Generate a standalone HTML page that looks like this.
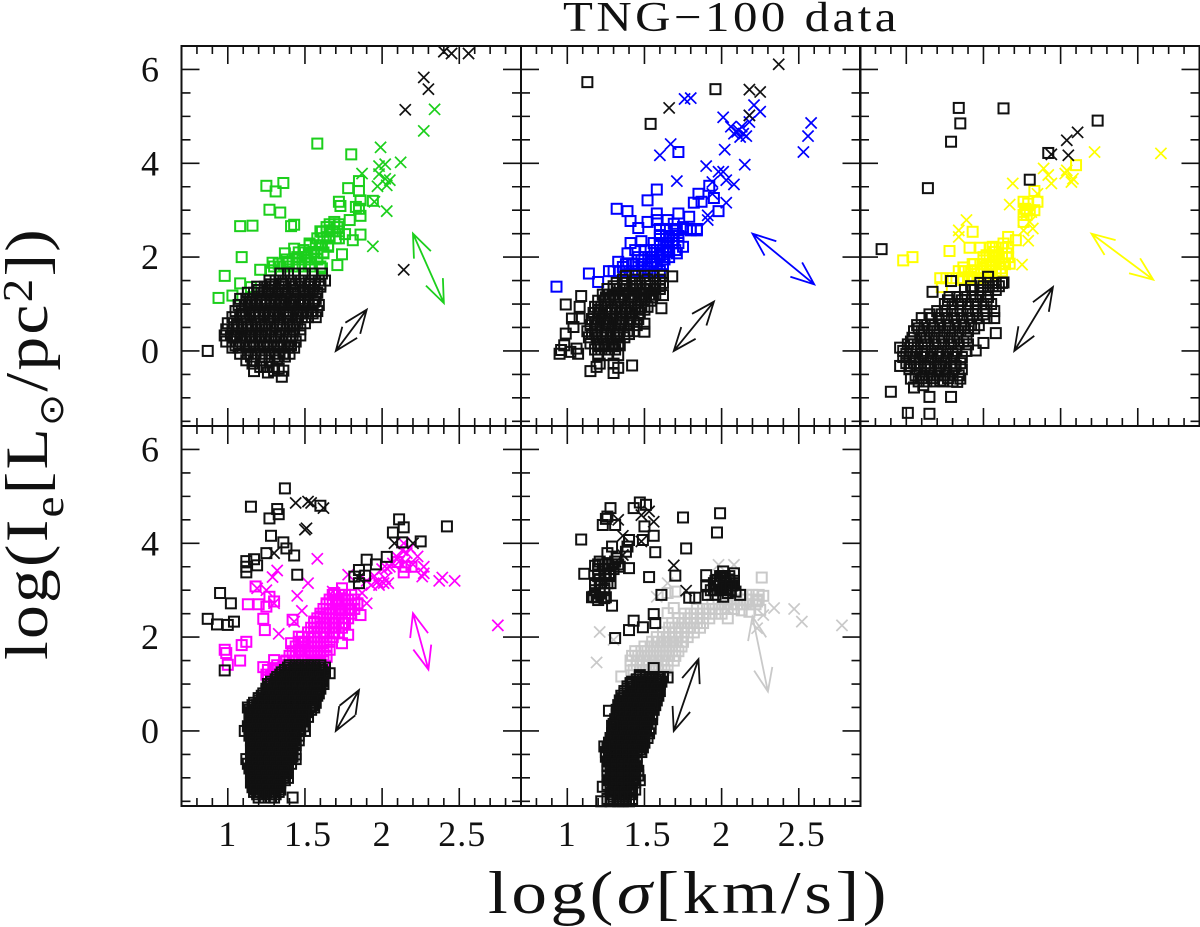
<!DOCTYPE html>
<html lang="en">
<head>
<meta charset="utf-8">
<title>TNG-100 data</title>
<style>
html,body{margin:0;padding:0;background:#fff;width:1200px;height:927px;overflow:hidden}
svg{display:block}
text{font-family:"Liberation Serif","DejaVu Serif",serif;fill:#111}
.tick-label{font-size:36px}
</style>
</head>
<body>
<svg id="chart" xmlns="http://www.w3.org/2000/svg" width="1200" height="927" viewBox="0 0 1200 927">
<rect x="0" y="0" width="1200" height="927" fill="#fff"/>
<text x="563" y="31" font-size="42" letter-spacing="3" textLength="337" lengthAdjust="spacingAndGlyphs">TNG−100 data</text>
<text x="488" y="913" font-size="60" letter-spacing="3" textLength="402" lengthAdjust="spacingAndGlyphs">log(<tspan font-style="italic">σ</tspan>[km/s])</text>
<text transform="translate(47,660) rotate(-90)" font-size="60" letter-spacing="2" textLength="433" lengthAdjust="spacingAndGlyphs">log(I<tspan font-size="42" dy="16">e</tspan><tspan dy="-16">[L</tspan><tspan font-size="34" dy="16" font-family="DejaVu Sans">⊙</tspan><tspan dy="-16">/pc</tspan><tspan font-size="42" dy="-15">2</tspan><tspan dy="15">])</tspan></text>
<g id="panels"></g>
</svg>
<script>
/* Axis tick labels and tick values */
const xMajorTicks=[1,1.5,2,2.5];
const xTickLabels=["1","1.5","2","2.5"];
const yMajorTicks=[6,4,2,0];
const yTickLabels=["6","4","2","0"];
const xMinorTicks=[0.8,0.9,1.1,1.2,1.3,1.4,1.6,1.7,1.8,1.9,2.1,2.2,2.3,2.4,2.6,2.7,2.8];
const yMinorTicks=[5.5,5,4.5,3.5,3,2.5,1.5,1,0.5,-0.5,-1,-1.5];

/* Panel 1: log sigma, log Ie pairs. "Rows" arrays: log Ie first, then the log sigma values of squares near that level */
const panel1ColorSquares=[[1.58,4.42],[1.8,4.19],[1.25,3.52],[1.36,3.58],[1.31,3.4],[1.27,3.01],[1.34,2.95],[1.08,2.66],[1.16,2.67],[1.41,2.66],[1.43,2.69],[1.09,2],[.98,1.6],[.94,1.13],[1.03,1.18],[1.08,1.44],[1.21,1.73],[1.85,3.62],[1.78,3.47],[1.85,3.41],[1.86,3.21],[1.72,3.18],[1.73,3.09],[1.83,3.07],[1.85,3.03],[1.94,3.2],[1.86,2.88],[1.79,2.79],[1.86,2.48],[1.81,2.36],[1.74,2.06],[1.71,1.83],[1.69,2.75],[1.64,2.64],[1.71,2.64],[1.61,2.54],[1.66,2.57],[1.62,2.4],[1.72,2.4],[1.76,2.49],[1.53,2.29],[1.6,2.25],[1.65,2.22],[1.43,2.18],[1.49,2.15],[1.56,2.11],[1.62,2.08],[1.37,2.08],[1.45,2],[1.51,2],[1.58,1.97],[1.29,1.88],[1.33,1.86],[1.39,1.9],[1.46,1.86],[1.53,1.86],[1.61,1.76],[1.28,1.72],[1.15,1.36]];
const panel1ColorRows=[[2.7,1.66,1.69,1.72],[2.55,1.6,1.64,1.68,1.72],[2.4,1.58,1.62,1.66,1.7],[2.25,1.53,1.57,1.61,1.65],[2.1,1.46,1.5,1.54,1.58,1.62],[1.95,1.38,1.42,1.46,1.5,1.54,1.58],[1.8,1.3,1.34,1.38,1.42,1.46,1.5,1.54,1.6]];
const panel1ColorCrosses=[[1.99,4.34],[1.87,3.78],[1.98,3.94],[2.02,3.98],[2.12,4.02],[1.98,3.77],[2.05,3.64],[2.02,3.67],[2.03,3.53],[1.97,3.51],[1.95,3.18],[2.03,2.98],[1.94,2.23],[2.34,5.15],[2.27,4.69]];
const panel1BlackCrosses=[[2.15,5.14],[2.27,5.83],[2.3,5.58],[2.4,6.38],[2.45,6.34],[2.56,6.34],[2.14,1.73]];
const panel1BlackSquares=[[.87,0],[1.35,-.55],[1.16,-.27],[1.17,-.43],[1.26,-.46],[1.3,-.42],[1.36,-.42],[1.33,-.38],[1.37,-.12]];
const panel1BlackRows=[[1.65,1.34,1.39,1.43,1.5,1.55,1.61],[1.5,1.27,1.31,1.36,1.41,1.46,1.5,1.54,1.59,1.63],[1.37,1.19,1.24,1.29,1.33,1.37,1.42,1.47,1.52,1.56,1.6],[1.24,1.13,1.17,1.22,1.26,1.31,1.35,1.39,1.44,1.49,1.53,1.58],[1.11,1.08,1.12,1.16,1.21,1.25,1.3,1.34,1.38,1.43,1.47,1.52,1.57],[.98,1.07,1.11,1.15,1.19,1.24,1.28,1.33,1.37,1.41,1.46,1.5,1.55,1.59],[.85,1.05,1.09,1.14,1.18,1.23,1.27,1.31,1.36,1.4,1.45,1.49,1.54,1.58],[.72,1.03,1.08,1.12,1.17,1.21,1.26,1.3,1.34,1.39,1.44,1.48,1.52,1.57],[.59,1,1.04,1.09,1.13,1.18,1.22,1.27,1.32,1.36,1.4,1.45,1.5],[.46,.99,1.03,1.07,1.12,1.16,1.2,1.25,1.29,1.34,1.38,1.43,1.47],[.33,.98,1.02,1.06,1.11,1.15,1.2,1.24,1.28,1.33,1.38,1.42,1.47],[.2,.99,1.03,1.08,1.12,1.16,1.21,1.25,1.3,1.35,1.4,1.44],[.07,1.03,1.07,1.12,1.17,1.21,1.26,1.3,1.34,1.39,1.43],[-.06,1.08,1.13,1.18,1.22,1.27,1.31,1.36,1.4],[-.2,1.12,1.17,1.22,1.27,1.32],[-.34,1.21,1.25,1.29]];
const panel1ExtraBlackRows=[[1.42,1.28,1.35,1.44,1.53,1.6],[1.3,1.2,1.27,1.35,1.43,1.5,1.55],[1.05,1.14,1.22,1.28,1.35,1.42,1.5,1.56],[.8,1.1,1.2,1.29,1.38,1.47,1.55],[.55,1.06,1.15,1.24,1.34,1.42],[.3,1.04,1.14,1.22,1.31,1.4],[.12,1.05,1.14,1.23,1.32,1.41],[-.12,1.15,1.24,1.33]];
const panel1ColorArrow=[2.2,2.5,2.4,1.02];
const panel1BlackArrow=[1.9,.88,1.7,0];
const panel1Color="#1ccf1c";

/* Panel 2 */
const panel2ColorSquares=[[1.72,4.24],[1.58,3.44],[1.52,3.21],[1.32,3.03],[1.39,2.98],[1.41,2.77],[1.46,2.62],[1.52,2.75],[1.58,2.93],[1.58,2.79],[1.92,3.52],[1.85,3.35],[1.82,3.16],[1.87,3.18],[1.95,3.26],[1.98,2.98],[1.72,2.93],[1.79,2.86],[1.65,2.79],[1.69,2.71],[1.75,2.64],[1.84,2.57],[1.6,2.47],[1.66,2.43],[1.75,2.22],[1.41,2.3],[1.48,2.34],[1.39,2.08],[1.44,2.15],[1.33,1.9],[1.14,1.65],[.93,1.37],[1.2,1.47],[1.27,1.7],[1.71,2.08],[1.65,2.11],[1.6,2.04],[1.55,2],[1.6,2.29],[1.48,1.93],[1.43,1.86],[1.36,1.79],[1.58,1.86],[1.52,1.76],[1.65,2.29],[1.69,2.36],[1.8,2.57],[1.71,2.57],[1.62,2.15],[1.55,1.9],[1.63,1.95]];
const panel2ColorRows=[[2.6,1.6,1.64,1.7,1.75,1.8,1.84],[2.45,1.6,1.64,1.68,1.72],[2.3,1.56,1.6,1.64,1.68,1.72],[2.15,1.5,1.54,1.58,1.62,1.66,1.7],[2,1.46,1.5,1.54,1.58,1.62,1.66],[1.85,1.38,1.42,1.46,1.5,1.54,1.58,1.62],[1.7,1.3,1.34,1.38,1.42,1.46,1.5,1.54,1.6]];
const panel2ColorCrosses=[[1.76,5.37],[1.8,5.39],[1.67,4.41],[1.6,4.17],[1.71,3.62],[2.02,4.29],[1.9,3.94],[2.15,3.97],[1.98,3.82],[2.01,3.82],[2.03,3.64],[2.08,3.55],[1.94,3.6],[1.94,3.35],[2.03,3.16],[1.91,2.89],[1.91,2.79],[2.01,4.98],[2.06,4.78],[2.08,4.63],[2.11,4.7],[2.13,4.78],[2.14,4.63],[2.12,4.56],[2.16,4.58],[2.18,4.88],[2.21,5.24],[2.25,5.1],[2.58,4.86],[2.56,4.58],[2.53,4.24],[2.1,4.67],[2.18,5.02]];
const panel2BlackCrosses=[[1.66,5.18],[2.18,5.57],[2.25,5.52],[2.18,5.02],[2.37,6.11]];
const panel2BlackSquares=[[1.13,5.73],[1.96,5.58],[1.54,4.84],[1.68,1.59],[1.09,1.17],[.99,.99],[1.08,.94],[1.61,.91],[1.62,1.19],[1.03,.69],[1.08,.69],[.99,.37],[1.04,.51],[.98,.12],[.95,-.06],[.96,.02],[1.02,-.02],[1.07,-.06],[1.06,.05],[1.15,-.43],[1.19,-.34],[1.3,-.47],[1.33,-.36],[1.42,-.31],[1.3,-.27],[1.21,-.27],[1.2,-.09],[1.26,-.09],[1.33,-.09],[1.34,.12],[1.5,.41],[1.5,.58]];
const panel2BlackRows=[[1.6,1.38,1.44,1.5,1.56,1.62],[1.45,1.32,1.37,1.42,1.47,1.52,1.57,1.62],[1.32,1.26,1.3,1.34,1.38,1.43,1.47,1.51,1.56,1.6],[1.2,1.23,1.27,1.31,1.36,1.4,1.44,1.49,1.53,1.57],[1.07,1.2,1.24,1.28,1.33,1.37,1.41,1.46,1.5,1.54],[.94,1.18,1.22,1.26,1.31,1.35,1.39,1.44,1.48,1.52],[.81,1.17,1.21,1.25,1.29,1.34,1.38,1.42,1.47],[.68,1.16,1.2,1.24,1.28,1.32,1.36,1.41,1.46],[.55,1.15,1.19,1.23,1.27,1.31,1.35,1.4,1.45],[.42,1.13,1.18,1.22,1.26,1.3,1.34,1.39,1.43],[.29,1.14,1.19,1.23,1.28,1.32,1.37],[.16,1.15,1.2,1.24,1.29,1.33],[.03,1.18,1.22,1.27,1.31]];
const panel2ExtraBlackRows=[[1.52,1.36,1.44,1.52,1.6],[1.38,1.3,1.36,1.45,1.54,1.6],[1.14,1.25,1.34,1.42,1.51,1.55],[.88,1.2,1.29,1.37,1.46,1.5],[.62,1.18,1.26,1.34,1.43],[.36,1.16,1.25,1.33,1.4],[.1,1.2,1.25,1.3]];
const panel2ColorArrow=[2.2,2.5,2.6,1.42];
const panel2BlackArrow=[1.95,1.05,1.69,0];
const panel2Color="#0000ff";

/* Panel 3 */
const panel3ColorSquares=[[2.1,3.96],[1.83,3.41],[1.76,3.18],[1.85,3.18],[1.79,3.14],[1.77,3.03],[1.76,2.75],[1.43,2.54],[1.28,2.13],[.98,1.93],[1.04,2],[1.41,2.2],[1.48,2.2],[1.56,2.22],[1.66,2.43],[1.71,2.36],[1.63,2.29],[1.57,2.11],[1.65,2.08],[1.5,1.93],[1.58,1.93],[1.67,1.86],[1.37,1.78],[1.44,1.72],[1.5,1.76],[1.61,1.76],[1.37,1.51],[1.23,1.36],[1.46,1.54],[1.55,1.72],[1.63,1.86],[1.52,2.04],[1.6,2],[1.41,1.58],[1.54,1.6],[1.43,1.85],[1.56,2.04]];
const panel3ColorRows=[[3,1.78,1.8,1.83],[2.9,1.76,1.78],[2.2,1.54,1.58,1.62,1.66],[2,1.5,1.54,1.58,1.62,1.66],[1.85,1.44,1.48,1.52,1.56,1.6,1.64],[1.7,1.34,1.38,1.42,1.46,1.5,1.54,1.58,1.62],[1.55,1.22,1.26,1.3,1.36,1.4,1.44,1.5]];
const panel3ColorCrosses=[[2.22,4.24],[2.65,4.21],[1.69,3.57],[1.67,3.12],[1.89,3.89],[1.92,3.75],[1.94,3.57],[2.04,3.85],[2.03,3.78],[2.07,3.6],[2.08,3.67],[1.85,3.35],[1.81,2.96],[1.82,2.61],[1.79,2.35],[1.75,1.84],[1.39,2.79],[1.34,2.57],[1.34,2.43],[1.76,2.57],[1.8,2.75]];
const panel3BlackCrosses=[[2.11,4.66],[2.04,4.49],[2.05,4.17],[1.94,4.19]];
const panel3BlackSquares=[[1.34,5.18],[1.63,5.17],[1.35,4.85],[1.29,4.46],[2.24,4.91],[1.92,4.22],[1.14,3.47],[1.8,3.65],[.84,2.17],[.9,-.87],[1.01,-1.32],[1.15,-.98],[1.29,-.98],[1.15,-1.34],[1.58,.38],[1.5,.17],[1.45,.01],[1.17,1.26],[1.29,1.49],[1.53,1.58],[1.63,1.46],[.96,.07],[.96,-.32],[1.03,-.59],[1.05,-.78],[1.11,-.73],[1.33,-.66],[1.35,-.59],[1.22,-.63]];
const panel3BlackRows=[[1.45,1.48,1.53,1.58,1.62],[1.3,1.38,1.43,1.48,1.53,1.58],[1.15,1.28,1.33,1.38,1.43,1.48,1.53],[1,1.25,1.3,1.35,1.4,1.45,1.5,1.55],[.85,1.2,1.25,1.3,1.35,1.4,1.45,1.52,1.57],[.7,1.1,1.16,1.21,1.26,1.31,1.36,1.41,1.46,1.52,1.57],[.55,1.07,1.12,1.17,1.22,1.27,1.32,1.37,1.42,1.47],[.42,1.05,1.1,1.15,1.2,1.25,1.3,1.35,1.4],[.28,1.04,1.09,1.13,1.18,1.23,1.28,1.33,1.39],[.14,1.01,1.05,1.1,1.14,1.19,1.24,1.29,1.34,1.4],[0,.98,1.03,1.07,1.12,1.17,1.22,1.27,1.32,1.39],[-.13,.98,1.02,1.06,1.11,1.16,1.21,1.26,1.31,1.36],[-.26,1,1.05,1.09,1.14,1.19,1.24,1.29,1.35],[-.39,1.02,1.07,1.12,1.16,1.21,1.26,1.31,1.36],[-.52,1.06,1.11,1.15,1.2,1.25,1.3,1.34],[-.65,1.08,1.13,1.18,1.24,1.3]];
const panel3ExtraBlackRows=[[1.38,1.42,1.5,1.56,1.6],[1.08,1.27,1.36,1.45,1.52],[.78,1.15,1.23,1.33,1.43,1.5],[.48,1.08,1.18,1.28,1.38,1.44],[.2,1.03,1.12,1.21,1.31,1.37],[-.06,1,1.1,1.2,1.3],[-.32,1.03,1.12,1.22,1.32],[-.58,1.1,1.17,1.27]];
const panel3ColorArrow=[2.2,2.5,2.6,1.52];
const panel3BlackArrow=[1.95,1.36,1.7,0];
const panel3Color="#ffff00";

/* Panel 4 */
const panel4ColorSquares=[[1.18,3.08],[1.13,2.7],[1.2,2.7],[1.25,2.65],[1.27,2.86],[1.3,2.76],[1.23,2.39],[1.24,2.15],[1.42,2.37],[1.12,1.9],[1.09,1.83],[.98,1.73],[.99,1.66],[1,1.41],[1.08,1.5],[1.23,1.36],[1.3,1.51],[1.28,1.16],[2.14,3.38],[2.19,3.5],[1.74,3.04],[1.69,2.94],[1.64,2.72],[1.71,2.76],[1.78,2.79],[1.84,2.72],[1.86,2.47],[1.79,2.58],[1.73,2.58],[1.66,2.51],[1.6,2.44],[1.56,2.33],[1.56,2.19],[1.62,2.3],[1.69,2.3],[1.75,2.3],[1.78,2.05],[1.74,1.87],[1.69,2.08],[1.62,2.08],[1.56,2.01],[1.46,2.01],[1.41,1.87],[1.49,1.87],[1.56,1.8],[1.62,1.87],[1.66,1.73],[1.6,1.66],[1.54,1.66],[1.47,1.73],[1.44,1.69],[1.64,1.58],[1.58,1.51],[1.49,1.51],[1.43,1.48],[1.37,1.48],[1.31,1.34],[2.1,3.6],[2.15,3.5]];
const panel4ColorRows=[[2.9,1.68,1.72,1.76,1.8],[2.8,1.66,1.7,1.74,1.78,1.82],[2.7,1.64,1.68,1.72,1.76,1.8,1.84],[2.6,1.62,1.66,1.7,1.74,1.78,1.82],[2.5,1.6,1.64,1.68,1.72,1.76,1.8],[2.4,1.58,1.62,1.66,1.7,1.74,1.78],[2.3,1.56,1.6,1.64,1.68,1.72,1.76],[2.2,1.54,1.58,1.62,1.66,1.7,1.74],[2.1,1.52,1.56,1.6,1.64,1.68,1.72],[2,1.48,1.52,1.56,1.6,1.64,1.68],[1.9,1.46,1.5,1.54,1.58,1.62,1.66],[1.8,1.44,1.48,1.52,1.56,1.6,1.64],[1.7,1.42,1.46,1.5,1.54,1.58,1.62],[1.6,1.4,1.44,1.48,1.52,1.56,1.6,1.64],[1.5,1.38,1.42,1.46,1.5,1.54,1.58,1.62],[1.4,1.32,1.36,1.4,1.44,1.62],[1.3,1.26,1.3,1.34],[1.2,1.25,1.29,1.33],[1.1,1.26,1.3]];
const panel4ColorCrosses=[[1.58,3.67],[1.32,3.42],[1.29,3.28],[1.52,3.15],[1.45,2.88],[1.48,2.56],[1.19,3.04],[1.25,3],[1.3,2.72],[1.43,2.33],[1.33,2.07],[2.75,2.25],[2.47,3.2],[2.39,3.27],[2.37,3.2],[2.27,3.36],[2.27,3.5],[2.26,3.29],[2.23,3.72],[2.14,4],[2.16,3.79],[2.11,3.61],[2.03,3.47],[2.04,3.15],[1.98,3.11],[1.93,3.11],[1.9,2.72],[1.78,3.33],[1.68,2.97],[1.87,2.94],[2.01,3.15],[2.07,3.57],[1.9,3.2],[1.95,3.3],[2,3.45],[2.05,3.5],[2.1,3.7],[2.15,3.6],[2.2,3.55],[2.13,3.85],[2.18,3.9],[2.02,3.25],[1.97,3.18]];
const panel4BlackCrosses=[[1.44,4.86],[1.52,4.89],[1.54,4.86],[1.62,4.75],[1.5,4.29],[1.51,4.32],[1.3,3.79],[2.08,4],[2.2,4],[1.85,3.26]];
const panel4BlackSquares=[[1.37,5.17],[1.15,4.78],[1.32,4.73],[1.33,4.62],[1.27,4.53],[1.6,4.8],[1.28,4.16],[1.36,4.02],[1.38,3.89],[1.43,3.74],[1.25,3.79],[1.17,3.66],[1.12,3.62],[1.19,3.53],[1.12,3.5],[1.12,3.38],[1.45,3.33],[.95,2.94],[1.02,2.72],[.87,2.39],[.93,2.27],[1,2.26],[1.04,2.33],[.98,1.29],[2.11,4.51],[2.14,4.34],[2.07,4.23],[2.42,4.36],[2.25,4.04],[2.13,4.02],[2.03,3.71],[1.96,3.55],[1.9,3.65],[1.85,3.43],[1.82,3.29],[1.89,3.31],[1.85,3.15],[1.66,1.23],[1.42,-1.42]];
const panel4BlackRows=[[1.4,1.4,1.44,1.48,1.52,1.56,1.6],[1.3,1.37,1.41,1.45,1.49,1.53,1.57,1.61],[1.2,1.34,1.38,1.42,1.46,1.5,1.54,1.58,1.62],[1.1,1.31,1.35,1.39,1.43,1.47,1.51,1.55,1.59],[1,1.26,1.3,1.34,1.38,1.42,1.46,1.5,1.54,1.58,1.62],[.9,1.25,1.29,1.33,1.37,1.41,1.45,1.49,1.53,1.57,1.6],[.8,1.23,1.27,1.31,1.35,1.39,1.43,1.47,1.51,1.55,1.59],[.7,1.2,1.24,1.28,1.32,1.36,1.4,1.44,1.48,1.52,1.56],[.6,1.17,1.21,1.25,1.29,1.33,1.37,1.41,1.45,1.49,1.53,1.57],[.5,1.13,1.17,1.21,1.25,1.29,1.33,1.37,1.41,1.45,1.49,1.53,1.56],[.4,1.15,1.19,1.23,1.27,1.31,1.35,1.39,1.43,1.47,1.51],[.3,1.16,1.2,1.24,1.28,1.32,1.36,1.4,1.44,1.48,1.52],[.2,1.14,1.18,1.22,1.26,1.3,1.34,1.38,1.42,1.46,1.5],[.1,1.13,1.17,1.21,1.25,1.29,1.33,1.37,1.41,1.45,1.49],[0,1.11,1.15,1.19,1.23,1.27,1.31,1.35,1.39,1.43,1.47,1.5],[-.1,1.14,1.18,1.22,1.26,1.3,1.34,1.38,1.42,1.46],[-.2,1.15,1.19,1.23,1.27,1.31,1.35,1.39,1.43,1.46],[-.3,1.16,1.2,1.24,1.28,1.32,1.36,1.4,1.44],[-.4,1.15,1.19,1.23,1.27,1.31,1.35,1.39,1.42],[-.5,1.16,1.2,1.24,1.28,1.32,1.36,1.4,1.44],[-.6,1.12,1.16,1.2,1.24,1.28,1.32,1.36,1.4,1.44],[-.7,1.13,1.17,1.21,1.25,1.29,1.33,1.37,1.41],[-.8,1.14,1.18,1.22,1.26,1.3,1.34,1.38],[-.9,1.15,1.19,1.23,1.27,1.31,1.35,1.38],[-1,1.16,1.2,1.24,1.28,1.32,1.36,1.39],[-1.1,1.15,1.19,1.23,1.27,1.31,1.34],[-1.2,1.16,1.2,1.24,1.28,1.32],[-1.3,1.17,1.21,1.25,1.29,1.33],[-1.42,1.2,1.24,1.28,1.3]];
const panel4ExtraBlackRows=[[1.35,1.39,1.43,1.47,1.51,1.55,1.59,1.63],[1.25,1.35,1.39,1.43,1.47,1.51,1.55,1.59,1.63],[1.15,1.32,1.36,1.4,1.44,1.48,1.52,1.56,1.6],[1.05,1.28,1.33,1.37,1.41,1.45,1.49,1.53,1.57,1.61],[.95,1.27,1.31,1.35,1.39,1.43,1.47,1.51,1.55,1.59],[.85,1.25,1.29,1.33,1.37,1.41,1.45,1.49,1.53,1.57],[.75,1.22,1.26,1.3,1.34,1.38,1.42,1.46,1.5,1.54,1.58],[.65,1.2,1.23,1.27,1.31,1.35,1.39,1.43,1.47,1.51,1.55],[.55,1.16,1.19,1.23,1.27,1.31,1.35,1.39,1.43,1.47,1.51,1.55],[.45,1.14,1.18,1.22,1.26,1.3,1.34,1.38,1.42,1.46,1.5,1.54],[.35,1.17,1.21,1.25,1.29,1.33,1.37,1.41,1.45,1.49],[.25,1.16,1.2,1.24,1.28,1.32,1.36,1.4,1.44,1.48],[.15,1.15,1.19,1.23,1.27,1.31,1.35,1.39,1.43,1.47],[.05,1.14,1.18,1.22,1.26,1.3,1.34,1.38,1.42,1.46],[-.05,1.16,1.2,1.24,1.28,1.32,1.36,1.4,1.44],[-.15,1.17,1.21,1.25,1.29,1.33,1.37,1.41],[-.25,1.17,1.21,1.25,1.29,1.33,1.37,1.41,1.44],[-.35,1.18,1.22,1.26,1.3,1.34,1.38,1.42],[-.45,1.17,1.21,1.25,1.29,1.33,1.37,1.41],[-.55,1.18,1.22,1.26,1.3,1.34,1.38,1.42],[-.65,1.15,1.19,1.23,1.27,1.31,1.35,1.39],[-.75,1.15,1.19,1.23,1.27,1.31,1.35,1.39],[-.85,1.16,1.2,1.24,1.28,1.32,1.36],[-.95,1.17,1.21,1.25,1.29,1.33,1.37],[-1.05,1.18,1.22,1.26,1.3,1.34,1.37],[-1.15,1.17,1.21,1.25,1.29,1.33],[-1.25,1.18,1.22,1.26,1.3,1.34],[-1.35,1.19,1.23,1.27,1.31]];
const panel4ColorArrow=[2.2,2.51,2.3,1.31];
const panel4BlackArrow=[1.85,.87,1.7,0];
const panel4Color="#ff00ff";

/* Panel 5 */
const panel5ColorSquares=[[2.26,3.27],[2.27,2.88],[2.23,2.76],[2.25,2.58],[2.18,2.54],[2.13,2.57],[2.04,2.4],[1.7,2.97],[1.65,2.94],[1.35,1.16],[1.69,2.62],[1.65,2.51]];
const panel5ColorRows=[[2.9,2.12,2.16,2.2,2.24],[2.8,2.04,2.08,2.12,2.16,2.2,2.24],[2.7,1.94,1.98,2.02,2.06,2.1,2.14,2.18,2.22],[2.6,1.84,1.88,1.92,1.96,2,2.04,2.08],[2.5,1.76,1.8,1.84,1.88,1.92,1.96,2],[2.4,1.72,1.76,1.8,1.84,1.88,1.92],[2.3,1.68,1.72,1.76,1.8,1.84,1.88],[2.2,1.66,1.7,1.74,1.78,1.82,1.86],[2.1,1.62,1.66,1.7,1.74,1.78,1.82],[2,1.58,1.62,1.66,1.7,1.74,1.78],[1.9,1.55,1.59,1.63,1.67,1.71,1.75],[1.8,1.5,1.54,1.58,1.62,1.66,1.7,1.74],[1.7,1.44,1.48,1.52,1.56,1.6,1.64,1.68,1.72],[1.6,1.42,1.46,1.5,1.54,1.58,1.62,1.66,1.7],[1.5,1.41,1.45,1.49,1.53,1.57,1.61,1.65,1.69],[1.4,1.41,1.45,1.49,1.53,1.57,1.61,1.65],[1.3,1.43,1.47,1.51,1.55,1.59,1.63]];
const panel5ColorCrosses=[[1.98,3.54],[2.08,3.54],[1.65,3.15],[1.58,2.86],[1.21,2.11],[1.19,1.46],[1.3,1.94],[2.47,2.6],[2.52,2.33],[2.78,2.25],[2.34,2.62],[2.27,2.47],[2.23,2.19],[2.04,2.58]];
const panel5BlackCrosses=[[1.33,4.5],[1.48,4.6],[1.53,4.68],[1.56,4.46],[1.36,4.16],[1.36,3.75],[1.48,4.04],[1.69,3.53],[1.77,2.99]];
const panel5BlackSquares=[[1.99,4.64],[1.97,4.23],[1.75,4.55],[1.77,3.89],[1.57,3.81],[1.53,3.28],[1.7,3.31],[1.61,2.9],[1.79,2.84],[1.83,2.84],[1.09,4.08],[1.47,4.87],[1.51,4.82],[1.43,4.75],[1.28,4.75],[1.26,4.57],[1.25,4.52],[1.23,4.39],[1.31,4.39],[1.5,4.36],[1.56,4.16],[1.49,4.07],[1.4,4.07],[1.29,3.93],[1.39,3.93],[1.38,3.82],[1.26,3.79],[1.11,3.35],[1.18,3.52],[1.21,3.61],[1.26,3.57],[1.31,3.61],[1.34,3.5],[1.4,3.47],[1.28,3.36],[1.25,3.33],[1.21,3.22],[1.28,3.15],[1.18,3.11],[1.24,3.04],[1.17,2.86],[1.2,2.79],[1.24,2.83],[1.29,2.67],[1.21,2.93],[1.32,3.68],[1.43,2.35],[1.4,2.15],[1.49,2.21],[1.56,2.49],[1.57,2.3],[1.31,1.98],[1.9,3.32],[2.01,3.4],[2.08,3.36],[1.99,3.15],[2.03,3.15],[2.08,3.15],[1.95,3.15],[1.97,3.22],[2.02,3.26],[2.05,3.23],[1.9,3.08],[1.99,3.01],[2.04,2.94],[1.91,2.9],[2.12,2.9],[2.09,2.97],[2.01,2.86],[1.96,2.9],[2.03,3.04],[2,3.3],[2.06,3.1],[1.95,3],[1.56,1.34],[1.65,1.14],[1.47,1.19],[1.41,1.02],[1.27,.43],[1.29,.11],[1.24,-.33],[1.23,-1.19]];
const panel5BlackRows=[[1.15,1.47,1.51,1.55,1.59,1.62],[1.05,1.42,1.46,1.5,1.54,1.58,1.61],[.95,1.39,1.43,1.47,1.51,1.55,1.59],[.85,1.37,1.41,1.45,1.49,1.53,1.57,1.6],[.75,1.35,1.39,1.43,1.47,1.51,1.55,1.59],[.65,1.34,1.38,1.42,1.46,1.5,1.54,1.58],[.55,1.33,1.37,1.41,1.45,1.49,1.53,1.57],[.45,1.32,1.36,1.4,1.44,1.48,1.52,1.56],[.35,1.32,1.36,1.4,1.44,1.48,1.52,1.55],[.25,1.31,1.35,1.39,1.43,1.47,1.51,1.55],[.15,1.3,1.34,1.38,1.42,1.46,1.5,1.54],[.05,1.3,1.34,1.38,1.42,1.46,1.5,1.54],[-.05,1.29,1.33,1.37,1.41,1.45,1.49,1.53],[-.15,1.28,1.32,1.36,1.4,1.44,1.48,1.52],[-.25,1.27,1.31,1.35,1.39,1.43,1.47,1.5],[-.35,1.26,1.3,1.34,1.38,1.42,1.46,1.49],[-.45,1.25,1.29,1.33,1.37,1.41,1.45,1.48],[-.55,1.25,1.29,1.33,1.37,1.41,1.45],[-.65,1.26,1.3,1.34,1.38,1.42,1.45],[-.75,1.26,1.3,1.34,1.38,1.42,1.45],[-.85,1.26,1.3,1.34,1.38,1.42,1.46],[-.95,1.26,1.3,1.34,1.38,1.42,1.46],[-1.05,1.27,1.31,1.35,1.39,1.43,1.47],[-1.15,1.26,1.3,1.34,1.38,1.42],[-1.25,1.28,1.32,1.36,1.4,1.44],[-1.35,1.29,1.33,1.37,1.41],[-1.45,1.26,1.3,1.34,1.38,1.42],[-1.5,1.22,1.28,1.33,1.36,1.4]];
const panel5ExtraBlackRows=[[1.1,1.45,1.49,1.53,1.57,1.6],[1,1.41,1.45,1.49,1.53,1.57,1.6],[.9,1.39,1.43,1.47,1.51,1.55,1.58],[.8,1.37,1.41,1.45,1.49,1.53,1.57],[.7,1.36,1.4,1.44,1.48,1.52,1.56],[.6,1.35,1.39,1.43,1.47,1.51,1.55],[.5,1.34,1.38,1.42,1.46,1.5,1.54],[.4,1.33,1.37,1.41,1.45,1.49,1.53],[.3,1.33,1.37,1.41,1.45,1.49,1.53],[.2,1.32,1.36,1.4,1.44,1.48,1.52],[.1,1.31,1.35,1.39,1.43,1.47,1.51],[0,1.31,1.35,1.39,1.43,1.47,1.51],[-.1,1.3,1.34,1.38,1.42,1.46,1.5],[-.2,1.29,1.33,1.37,1.41,1.45,1.49],[-.3,1.28,1.32,1.36,1.4,1.44,1.48],[-.4,1.27,1.31,1.35,1.39,1.43,1.47],[-.5,1.27,1.31,1.35,1.39,1.43],[-.6,1.27,1.31,1.35,1.39,1.43],[-.7,1.28,1.32,1.36,1.4,1.43],[-.8,1.28,1.32,1.36,1.4,1.44],[-.9,1.28,1.32,1.36,1.4,1.44],[-1,1.28,1.32,1.36,1.4,1.44],[-1.1,1.28,1.32,1.36,1.4,1.44],[-1.2,1.28,1.32,1.36,1.4],[-1.3,1.3,1.34,1.38,1.42],[-1.4,1.3,1.34,1.38],[3.3,1.99,2.02,2.05],[3.2,1.96,1.99,2.02,2.05,2.08],[3.1,1.95,1.98,2.01,2.04,2.07],[3,1.93,1.96,2,2.03,2.06],[3.55,1.2,1.23,1.26,1.29,1.33],[3.45,1.2,1.24,1.27,1.3],[3.3,1.2,1.24,1.27],[3.15,1.18,1.22,1.26],[3,1.18,1.21,1.24],[2.85,1.16,1.19,1.22,1.25]];
const panel5ColorArrow=[2.2,2.44,2.3,.84];
const panel5BlackArrow=[1.85,1.53,1.69,0];
const panel5Color="#c9c9c9";

const SVG_NS="http://www.w3.org/2000/svg";
const INK="#111";
const xMin=0.7,xMax=2.9,yMin=-1.6,yMax=6.5;
const frameWidth=339.5,frameHeight=380;
const layouts=[
 {left:181.5,top:46,name:"panel-1",yLabels:true,xLabels:false},
 {left:521,top:46,name:"panel-2",yLabels:false,xLabels:false},
 {left:860,top:46,name:"panel-3",yLabels:false,xLabels:false},
 {left:181.5,top:426,name:"panel-4",yLabels:true,xLabels:true},
 {left:521,top:426,name:"panel-5",yLabels:false,xLabels:true}
];
const seriesByPanel=[
 {color:panel1Color,sq:panel1ColorSquares,crows:panel1ColorRows,cr:panel1ColorCrosses,bsq:panel1BlackSquares,rows:panel1BlackRows,xrows:panel1ExtraBlackRows,bcr:panel1BlackCrosses,arrow:panel1ColorArrow,barrow:panel1BlackArrow},
 {color:panel2Color,sq:panel2ColorSquares,crows:panel2ColorRows,cr:panel2ColorCrosses,bsq:panel2BlackSquares,rows:panel2BlackRows,xrows:panel2ExtraBlackRows,bcr:panel2BlackCrosses,arrow:panel2ColorArrow,barrow:panel2BlackArrow},
 {color:panel3Color,sq:panel3ColorSquares,crows:panel3ColorRows,cr:panel3ColorCrosses,bsq:panel3BlackSquares,rows:panel3BlackRows,xrows:panel3ExtraBlackRows,bcr:panel3BlackCrosses,arrow:panel3ColorArrow,barrow:panel3BlackArrow},
 {color:panel4Color,sq:panel4ColorSquares,crows:panel4ColorRows,cr:panel4ColorCrosses,bsq:panel4BlackSquares,rows:panel4BlackRows,xrows:panel4ExtraBlackRows,bcr:panel4BlackCrosses,arrow:panel4ColorArrow,barrow:panel4BlackArrow},
 {color:panel5Color,sq:panel5ColorSquares,crows:panel5ColorRows,cr:panel5ColorCrosses,bsq:panel5BlackSquares,rows:panel5BlackRows,xrows:panel5ExtraBlackRows,bcr:panel5BlackCrosses,arrow:panel5ColorArrow,barrow:panel5BlackArrow}
];

function xScale(v,p){return p.left+(v-xMin)/(xMax-xMin)*frameWidth;}
function yScale(v,p){return p.top+(yMax-v)/(yMax-yMin)*frameHeight;}
function node(tag,parent){const el=document.createElementNS(SVG_NS,tag);parent.appendChild(el);return el;}

function drawSquare(parent,d,p,color){
 const el=node("rect",parent);
 
 
 el.setAttribute("x",xScale(d[0],p)-5);
 el.setAttribute("y",yScale(d[1],p)-5);
 el.setAttribute("width",10);
 el.setAttribute("height",10);
 el.setAttribute("fill","none");
 el.setAttribute("stroke",color);
 el.setAttribute("stroke-width",2);
}
function drawRows(parent,rows,p,color){
 rows.forEach(function(row){
  row.slice(1).forEach(function(xv){drawSquare(parent,[xv,row[0]],p,color);});
 });
}
function drawCross(parent,d,p,color){
 const el=node("path",parent);
 const cx=xScale(d[0],p),cy=yScale(d[1],p),h=5.6;
 
 
 el.setAttribute("d","M"+(cx-h)+" "+(cy+h)+"L"+(cx+h)+" "+(cy-h)+"M"+(cx-h)+" "+(cy-h)+"L"+(cx+h)+" "+(cy+h));
 el.setAttribute("fill","none");
 el.setAttribute("stroke",color);
 el.setAttribute("stroke-width",1.7);
}
function barbs(tx,ty,fx,fy){
 const a=Math.atan2(fy-ty,fx-tx),len=25,spread=0.38;
 return "M"+(tx+len*Math.cos(a+spread))+" "+(ty+len*Math.sin(a+spread))+"L"+tx+" "+ty+"L"+(tx+len*Math.cos(a-spread))+" "+(ty+len*Math.sin(a-spread));
}
function drawArrow(parent,vals,p,color,name){
 const el=node("path",parent);
 const x1=xScale(vals[0],p),y1=yScale(vals[1],p),x2=xScale(vals[2],p),y2=yScale(vals[3],p);
 
 
 el.setAttribute("d","M"+x1+" "+y1+"L"+x2+" "+y2+barbs(x1,y1,x2,y2)+barbs(x2,y2,x1,y1));
 el.setAttribute("fill","none");
 el.setAttribute("stroke",color);
 el.setAttribute("stroke-width",1.8);
}
function drawTickSet(parent,values,p,len,isX){
 values.forEach(function(v){
  const el=node("path",parent);
  
  
  if(isX){
   const x=xScale(v,p),b=p.top+frameHeight;
   el.setAttribute("d","M"+x+" "+p.top+"v"+len+"M"+x+" "+b+"v"+(-len));
  }else{
   const y=yScale(v,p),r=p.left+frameWidth;
   el.setAttribute("d","M"+p.left+" "+y+"h"+len+"M"+r+" "+y+"h"+(-len));
  }
  el.setAttribute("stroke",INK);
  el.setAttribute("stroke-width",1.6);
  el.setAttribute("fill","none");
 });
}

const root=document.getElementById("panels");
layouts.forEach(function(p,i){
 const s=seriesByPanel[i];
 const g=node("g",root);
 
 
 s.sq.forEach(function(d){drawSquare(g,d,p,s.color);});
 drawRows(g,s.crows,p,s.color);
 s.cr.forEach(function(d){drawCross(g,d,p,s.color);});
 drawRows(g,s.rows,p,INK);
 drawRows(g,s.xrows,p,INK);
 s.bsq.forEach(function(d){drawSquare(g,d,p,INK);});
 s.bcr.forEach(function(d){drawCross(g,d,p,INK);});
 drawArrow(g,s.arrow,p,s.color,"colored-vector-arrow");
 drawArrow(g,s.barrow,p,INK,"black-vector-arrow");
 drawTickSet(g,xMinorTicks,p,8,true);
 drawTickSet(g,xMajorTicks,p,18,true);
 drawTickSet(g,yMinorTicks,p,9,false);
 drawTickSet(g,yMajorTicks,p,18,false);
 const frame=node("rect",g);
 
 
 frame.setAttribute("x",p.left);
 frame.setAttribute("y",p.top);
 frame.setAttribute("width",frameWidth);
 frame.setAttribute("height",frameHeight);
 frame.setAttribute("fill","none");
 frame.setAttribute("stroke",INK);
 frame.setAttribute("stroke-width",2);
 if(p.yLabels){
  yMajorTicks.forEach(function(v,k){
   const t=node("text",g);
   
   
   t.setAttribute("class","tick-label");
   t.setAttribute("text-anchor","end");
   t.setAttribute("x",159);
   t.setAttribute("y",yScale(v,p)+12);
   t.textContent=yTickLabels[k];
  });
 }
 if(p.xLabels){
  xMajorTicks.forEach(function(v,k){
   const t=node("text",g);
   
   
   t.setAttribute("class","tick-label");
   t.setAttribute("text-anchor","middle");
   t.setAttribute("letter-spacing","1");
   t.setAttribute("x",xScale(v,p)+(xTickLabels[k].length>1?3:0));
   t.setAttribute("y",846);
   t.textContent=xTickLabels[k];
  });
 }
});
</script>
</body>
</html>
